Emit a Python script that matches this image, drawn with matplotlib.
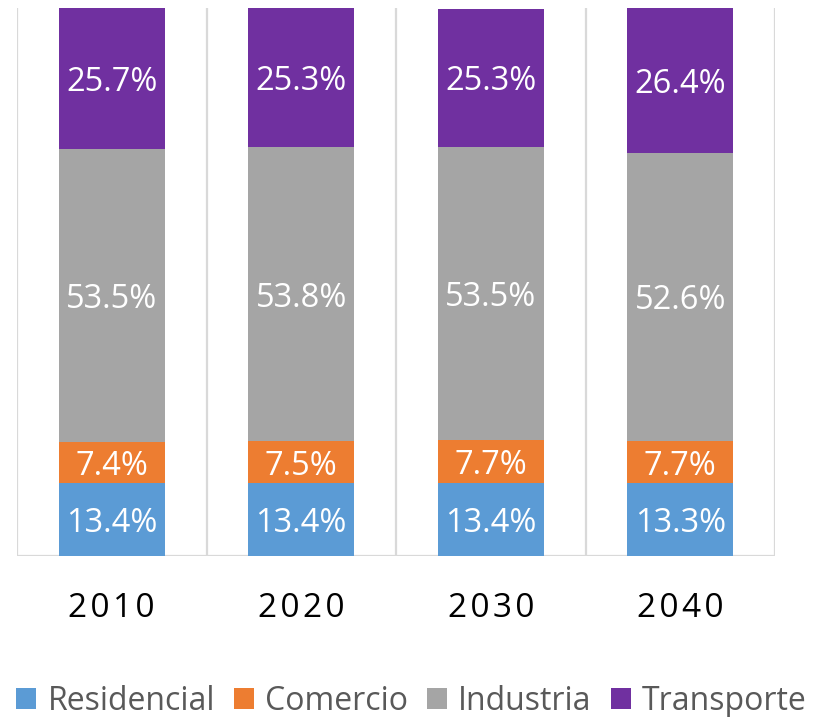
import numpy as np
import matplotlib
matplotlib.use('Agg')
import matplotlib.pyplot as plt
from matplotlib.patches import Patch

years = ['2010', '2020', '2030', '2040']
residencial = [13.4, 13.4, 13.4, 13.3]
comercio = [7.4, 7.5, 7.7, 7.7]
industria = [53.5, 53.8, 53.5, 52.6]
transporte = [25.7, 25.3, 25.3, 26.4]

series = ['Residencial', 'Comercio', 'Industria', 'Transporte']
colors = ['#5B9BD5', '#ED7D31', '#A5A5A5', '#7030A0']

plt.rcParams['font.family'] = ['Open Sans', 'DejaVu Sans']

fig = plt.figure(figsize=(8.15, 7.17), dpi=100)
ax = fig.add_axes([17 / 815, 161 / 717, 758 / 815, 548 / 717])

x = np.arange(len(years))
bottom = np.zeros(len(years))
for name, vals, color in zip(series, [residencial, comercio, industria, transporte], colors):
    vals = np.array(vals)
    ax.bar(x, vals, width=0.56, bottom=bottom, color=color, label=name, zorder=3)
    for xi, b, v in zip(x, bottom, vals):
        ax.text(xi, b + v / 2, f'{v:.1f}%', ha='center', va='center_baseline',
                color='white', fontsize=23.5, zorder=4)
    bottom += vals

ax.set_xlim(-0.5, len(years) - 0.5)
ax.set_ylim(0, 100)

# category separators
for sep in np.arange(-0.5, len(years), 1.0):
    ax.axvline(sep, color='#D9D9D9', linewidth=1.6, zorder=1)
ax.axhline(0, color='#D9D9D9', linewidth=1.6, zorder=2)

for s in ax.spines.values():
    s.set_visible(False)
ax.set_yticks([])
ax.set_xticks(x)
# spaced-out year labels like the original
ax.set_xticklabels(['\u200a'.join(y) for y in years], fontsize=24, color='black')
ax.tick_params(axis='x', length=0, pad=26)

handles = [Patch(facecolor=c, label=n) for n, c in zip(series, colors)]
fig.legend(handles=handles, loc='center', bbox_to_anchor=(0.505, 0.022), ncol=4,
           frameon=False, fontsize=23, labelcolor='#595959',
           handlelength=0.62, handleheight=0.62, handletextpad=0.35,
           columnspacing=0.6, borderaxespad=0)

fig.savefig('out.png', dpi=100)
